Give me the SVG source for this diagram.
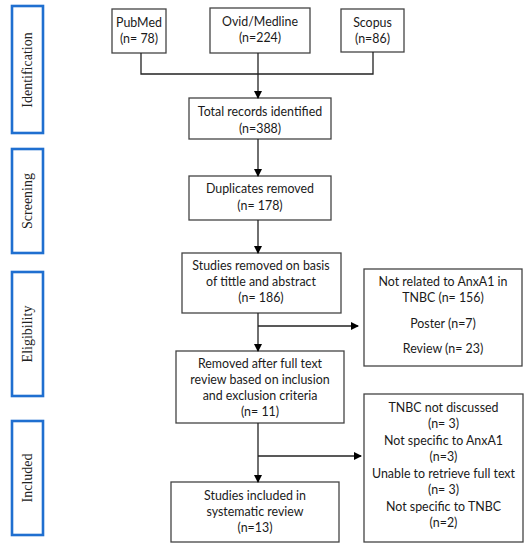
<svg xmlns="http://www.w3.org/2000/svg" width="531" height="550" viewBox="0 0 531 550">
<defs>
<marker id="ah" markerWidth="8" markerHeight="8" refX="7" refY="4" orient="auto" markerUnits="userSpaceOnUse">
<path d="M0,0 L8,4 L0,8 Z" fill="#000"/>
</marker>
</defs>
<style>
.box{fill:#fff;stroke:#444;stroke-width:1.3}
.side{fill:#fff;stroke:#1f6fd0;stroke-width:2.6}
.t{font-family:Lato,"Liberation Sans",sans-serif;font-size:12.4px;fill:#1a1a1a;text-anchor:middle}
.s{font-family:"Liberation Serif",serif;font-size:14px;fill:#222;text-anchor:middle}
.c{fill:none;stroke:#222;stroke-width:1.3}
</style>
<rect width="531" height="550" fill="#fff"/>
<g id="side-identification"><rect class="side" x="12" y="6" width="31" height="127"/><text class="s" transform="translate(32,70) rotate(-90)">Identification</text></g>
<g id="side-screening"><rect class="side" x="12" y="149" width="31" height="104"/><text class="s" transform="translate(32,201) rotate(-90)">Screening</text></g>
<g id="side-eligibility"><rect class="side" x="12" y="272" width="31" height="124"/><text class="s" transform="translate(32,334) rotate(-90)">Eligibility</text></g>
<g id="side-included"><rect class="side" x="12" y="421" width="31" height="114"/><text class="s" transform="translate(32,478) rotate(-90)">Included</text></g>

<g id="pubmed"><rect class="box" x="112" y="9" width="54" height="44"/><text class="t" x="139" y="27">PubMed</text><text class="t" x="139" y="43">(n= 78)</text></g>
<g id="ovid"><rect class="box" x="210" y="8" width="100" height="45"/><text class="t" x="260" y="26">Ovid/Medline</text><text class="t" x="260" y="42">(n=224)</text></g>
<g id="scopus"><rect class="box" x="341" y="9" width="63" height="43"/><text class="t" x="372.5" y="27">Scopus</text><text class="t" x="372.5" y="43">(n=86)</text></g>
<g id="total"><rect class="box" x="189" y="98" width="142" height="41"/><text class="t" x="260" y="116">Total records identified</text><text class="t" x="260" y="133">(n=388)</text></g>
<g id="duplicates"><rect class="box" x="189" y="176" width="142" height="44"/><text class="t" x="260" y="193">Duplicates removed</text><text class="t" x="260" y="210">(n= 178)</text></g>
<g id="studies-removed"><rect class="box" x="182" y="253" width="159" height="60"/><text class="t" x="261" y="270">Studies removed on basis</text><text class="t" x="261" y="286">of tittle and abstract</text><text class="t" x="261" y="302">(n= 186)</text></g>
<g id="excluded1"><rect class="box" x="364" y="269" width="158" height="97"/><text class="t" x="443" y="286">Not related to AnxA1 in</text><text class="t" x="443" y="302">TNBC (n= 156)</text><text class="t" x="443" y="328">Poster (n=7)</text><text class="t" x="443" y="353">Review (n= 23)</text></g>
<g id="removed-fulltext"><rect class="box" x="176" y="351" width="168" height="72"/><text class="t" x="260" y="368">Removed after full text</text><text class="t" x="260" y="384">review based on inclusion</text><text class="t" x="260" y="400">and exclusion criteria</text><text class="t" x="260" y="416">(n= 11)</text></g>
<g id="excluded2"><rect class="box" x="364" y="394" width="159" height="148"/>
<text class="t" x="443.5" y="411.5">TNBC not discussed</text>
<text class="t" x="443.5" y="428">(n= 3)</text>
<text class="t" x="443.5" y="444.5">Not specific to AnxA1</text>
<text class="t" x="443.5" y="461">(n=3)</text>
<text class="t" x="443.5" y="477.5">Unable to retrieve full text</text>
<text class="t" x="443.5" y="494">(n= 3)</text>
<text class="t" x="443.5" y="510.5">Not specific to TNBC</text>
<text class="t" x="443.5" y="527">(n=2)</text></g>
<g id="included"><rect class="box" x="171" y="482" width="168" height="60"/><text class="t" x="255" y="500">Studies included in</text><text class="t" x="255" y="516">systematic review</text><text class="t" x="255" y="532">(n=13)</text></g>

<g id="connectors">
<path class="c" d="M141,53 V74 H373 V52"/>
<path class="c" d="M258,53 V98" marker-end="url(#ah)"/>
<path class="c" d="M258,139 V176" marker-end="url(#ah)"/>
<path class="c" d="M258,220 V253" marker-end="url(#ah)"/>
<path class="c" d="M258,313 V351" marker-end="url(#ah)"/>
<path class="c" d="M258,326 H358" marker-end="url(#ah)"/>
<path class="c" d="M258,423 V482" marker-end="url(#ah)"/>
<path class="c" d="M258,456 H361" marker-end="url(#ah)"/>
</g>
</svg>
